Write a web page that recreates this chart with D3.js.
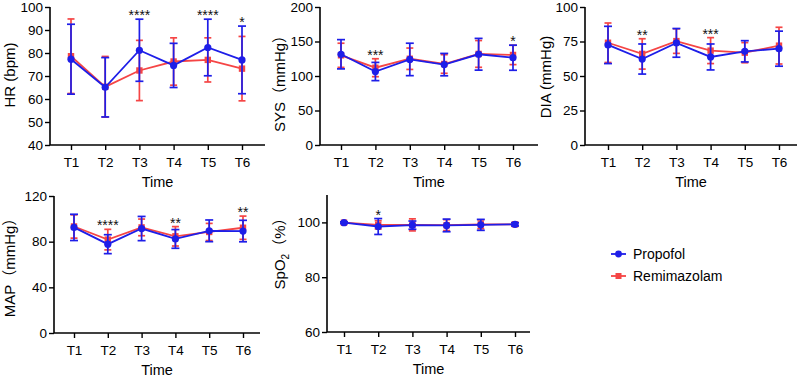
<!DOCTYPE html>
<html>
<head>
<meta charset="utf-8">
<script src="https://cdn.jsdelivr.net/npm/d3@7"></script>
<style>
    body { margin: 0; background: #fff; }
    svg { display: block; font-family: "Liberation Sans", Arial, "Noto Sans CJK SC", sans-serif; }
</style>
</head>
<body>
<div id="chart"></div>
<script>
// time points
const times = ["T1", "T2", "T3", "T4", "T5", "T6"];

// HR (bpm)
const hrPropofolMean = [77.3, 65.1, 81.2, 74.6, 82.4, 77.0];
const hrPropofolSd = [15.2, 12.9, 13.5, 9.6, 12.3, 14.7];
const hrRemiMean = [78.6, 65.3, 72.4, 76.3, 77.0, 73.2];
const hrRemiSd = [16.2, 13.2, 13.1, 10.3, 9.6, 14.0];
const hrSig = ["", "", "****", "", "****", "*"];
const hrTicks = [40, 50, 60, 70, 80, 90, 100];

// SYS (mmHg)
const sysPropofolMean = [131.5, 106.5, 124.0, 116.5, 131.5, 126.5];
const sysPropofolSd = [21.2, 13.2, 23.5, 16.2, 23.0, 18.2];
const sysRemiMean = [130.0, 112.0, 125.0, 117.4, 132.0, 130.5];
const sysRemiSd = [17.5, 13.0, 15.5, 13.5, 19.4, 14.0];
const sysSig = ["", "***", "", "", "", "*"];
const sysTicks = [0, 50, 100, 150, 200];

// DIA (mmHg)
const diaPropofolMean = [72.5, 62.3, 74.0, 63.8, 67.9, 69.8];
const diaPropofolSd = [13.5, 10.9, 10.4, 9.4, 7.7, 12.7];
const diaRemiMean = [74.1, 66.0, 75.3, 68.4, 66.9, 72.0];
const diaRemiSd = [14.3, 11.0, 8.9, 9.4, 7.3, 13.3];
const diaSig = ["", "**", "", "***", "", ""];
const diaTicks = [0, 25, 50, 75, 100];

// MAP (mmHg)
const mapPropofolMean = [92.5, 77.8, 91.5, 82.4, 89.5, 89.3];
const mapPropofolSd = [11.5, 8.3, 10.6, 8.2, 9.5, 9.4];
const mapRemiMean = [93.3, 81.8, 92.5, 84.7, 88.5, 92.2];
const mapRemiSd = [10.2, 9.0, 7.3, 8.5, 7.5, 10.2];
const mapSig = ["", "****", "", "**", "", "**"];
const mapTicks = [0, 40, 80, 120];

// SpO2 (%)
const spoPropofolMean = [99.9, 98.5, 99.0, 98.9, 99.1, 99.3];
const spoPropofolSd = [0.3, 2.9, 1.5, 2.3, 2.0, 0.6];
const spoRemiMean = [99.9, 99.1, 99.1, 99.0, 99.3, 99.3];
const spoRemiSd = [0.3, 1.5, 2.2, 2.0, 1.6, 0.6];
const spoSig = ["", "*", "", "", "", ""];
const spoTicks = [60, 80, 100];

const groups = ["Propofol", "Remimazolam"];
const blue = "#1e1ee8";
const red = "#f54545";

const W = 799, H = 378;

const svg = d3.select("#chart").append("svg")
    .attr("width", W)
    .attr("height", H);

class LinePanel {
    constructor(opts) {
        this.opts = opts;
        this.render();
    }

    render() {
        let vis = this;
        const o = vis.opts;

        vis.g = svg.append("g");

        vis.x = d3.scalePoint()
            .domain(times)
            .range([o.t1, o.t6]);

        vis.y = d3.scaleLinear()
            .domain(o.domain)
            .range([o.bottom, o.top]);

        // x axis
        const xAxis = vis.g.append("g")
            .attr("transform", `translate(0,${o.bottom})`)
            .call(d3.axisBottom(vis.x).tickSize(5).tickPadding(7).tickSizeOuter(0));
        xAxis.select(".domain").remove();
        xAxis.append("line")
            .attr("x1", o.left).attr("x2", o.right)
            .attr("stroke", "#000").attr("stroke-width", 1.6);

        // y axis
        const yAxis = vis.g.append("g")
            .attr("transform", `translate(${o.left},0)`)
            .call(d3.axisLeft(vis.y).tickValues(o.ticks).tickSize(5).tickPadding(2).tickSizeOuter(0));
        yAxis.select(".domain").remove();
        yAxis.append("line")
            .attr("y1", o.top).attr("y2", o.bottom)
            .attr("stroke", "#000").attr("stroke-width", 1.6);

        [xAxis, yAxis].forEach(a => {
            a.selectAll(".tick line").attr("stroke", "#000").attr("stroke-width", 1.4);
            a.selectAll(".tick text")
                .attr("fill", "#000")
                .style("font-size", "13.5px")
                .style("font-family", "'Liberation Sans', Arial, sans-serif");
        });

        // axis titles
        vis.g.append("text")
            .attr("x", (o.left + o.right) / 2)
            .attr("y", o.bottom + 42)
            .attr("text-anchor", "middle")
            .style("font-size", "14.5px")
            .text("Time");

        const title = vis.g.append("text")
            .attr("transform", `translate(${o.titleX},${o.titleY}) rotate(-90)`)
            .attr("text-anchor", "middle")
            .style("font-size", "15px");
        if (o.sub) {
            title.append("tspan").text(o.title[0]);
            title.append("tspan").attr("dy", 4).style("font-size", "10px").text(o.sub);
            title.append("tspan").attr("dy", -4).text(o.title[1]);
        } else {
            title.text(o.title);
        }

        // series: red first, blue on top
        vis.drawSeries(o.remiMean, o.remiSd, red, "square");
        vis.drawSeries(o.propMean, o.propSd, blue, "circle");

        // significance stars above highest error bar
        vis.g.append("g")
            .selectAll("text")
            .data(o.sig.map((s, i) => ({ s, i })).filter(d => d.s !== ""))
            .enter()
            .append("text")
            .attr("x", d => vis.x(times[d.i]))
            .attr("y", d => {
                const top = Math.max(o.propMean[d.i] + o.propSd[d.i], o.remiMean[d.i] + o.remiSd[d.i]);
                return vis.y(top) + 1;
            })
            .attr("text-anchor", "middle")
            .style("font-size", "14px")
            .attr("fill", "#111")
            .text(d => d.s);
    }

    drawSeries(mean, sd, color, shape) {
        let vis = this;
        const pts = times.map((t, i) => ({ t, m: mean[i], s: sd[i] }));
        const g = vis.g.append("g");
        const cap = shape === "circle" ? 4 : 3.5;

        // error bars
        const eb = g.selectAll(".eb").data(pts).enter().append("g")
            .attr("stroke", color)
            .attr("stroke-width", 1.7);
        eb.append("line")
            .attr("x1", d => vis.x(d.t)).attr("x2", d => vis.x(d.t))
            .attr("y1", d => vis.y(d.m + d.s)).attr("y2", d => vis.y(d.m - d.s));
        eb.append("line")
            .attr("x1", d => vis.x(d.t) - cap).attr("x2", d => vis.x(d.t) + cap)
            .attr("y1", d => vis.y(d.m + d.s)).attr("y2", d => vis.y(d.m + d.s));
        eb.append("line")
            .attr("x1", d => vis.x(d.t) - cap).attr("x2", d => vis.x(d.t) + cap)
            .attr("y1", d => vis.y(d.m - d.s)).attr("y2", d => vis.y(d.m - d.s));

        // mean line
        g.append("path")
            .datum(pts)
            .attr("fill", "none")
            .attr("stroke", color)
            .attr("stroke-width", 1.8)
            .attr("d", d3.line().x(d => vis.x(d.t)).y(d => vis.y(d.m)));

        // markers
        if (shape === "circle") {
            g.selectAll("circle").data(pts).enter().append("circle")
                .attr("cx", d => vis.x(d.t)).attr("cy", d => vis.y(d.m))
                .attr("r", 3.6).attr("fill", color);
        } else {
            g.selectAll("rect").data(pts).enter().append("rect")
                .attr("x", d => vis.x(d.t) - 3.2).attr("y", d => vis.y(d.m) - 3.2)
                .attr("width", 6.4).attr("height", 6.4).attr("fill", color);
        }
    }
}

new LinePanel({
    left: 50, right: 265, top: 7, bottom: 145, t1: 71, t6: 242,
    domain: [40, 100], ticks: hrTicks, title: "HR (bpm)", titleX: 15, titleY: 75,
    propMean: hrPropofolMean, propSd: hrPropofolSd, remiMean: hrRemiMean, remiSd: hrRemiSd, sig: hrSig
});
new LinePanel({
    left: 320, right: 538, top: 7, bottom: 145, t1: 341, t6: 513,
    domain: [0, 200], ticks: sysTicks, title: "SYS（mmHg）", titleX: 285, titleY: 80,
    propMean: sysPropofolMean, propSd: sysPropofolSd, remiMean: sysRemiMean, remiSd: sysRemiSd, sig: sysSig
});
new LinePanel({
    left: 585, right: 797, top: 7, bottom: 145, t1: 608, t6: 779,
    domain: [0, 100], ticks: diaTicks, title: "DIA (mmHg)", titleX: 551, titleY: 77,
    propMean: diaPropofolMean, propSd: diaPropofolSd, remiMean: diaRemiMean, remiSd: diaRemiSd, sig: diaSig
});
new LinePanel({
    left: 54, right: 260, top: 196, bottom: 333, t1: 74, t6: 243,
    domain: [0, 120], ticks: mapTicks, title: "MAP（mmHg）", titleX: 15, titleY: 264,
    propMean: mapPropofolMean, propSd: mapPropofolSd, remiMean: mapRemiMean, remiSd: mapRemiSd, sig: mapSig
});
new LinePanel({
    left: 327, right: 530, top: 195, bottom: 332, t1: 344, t6: 515,
    domain: [60, 110], ticks: spoTicks, title: ["SpO", "（%）"], sub: "2", titleX: 285, titleY: 250,
    propMean: spoPropofolMean, propSd: spoPropofolSd, remiMean: spoRemiMean, remiSd: spoRemiSd, sig: spoSig
});

// legend
const legend = svg.append("g").attr("transform", "translate(611,254)");
const legendColors = [blue, red];
groups.forEach((name, i) => {
    const row = legend.append("g").attr("transform", `translate(0,${i * 22})`);
    row.append("line")
        .attr("x1", 0).attr("x2", 15)
        .attr("stroke", legendColors[i]).attr("stroke-width", 1.8);
    if (i === 0) {
        row.append("circle").attr("cx", 7.5).attr("cy", 0).attr("r", 3.4).attr("fill", legendColors[i]);
    } else {
        row.append("rect").attr("x", 4.5).attr("y", -3).attr("width", 6).attr("height", 6).attr("fill", legendColors[i]);
    }
    row.append("text")
        .attr("x", 22).attr("y", 5)
        .style("font-size", "14px")
        .text(name);
});
</script>
</body>
</html>
